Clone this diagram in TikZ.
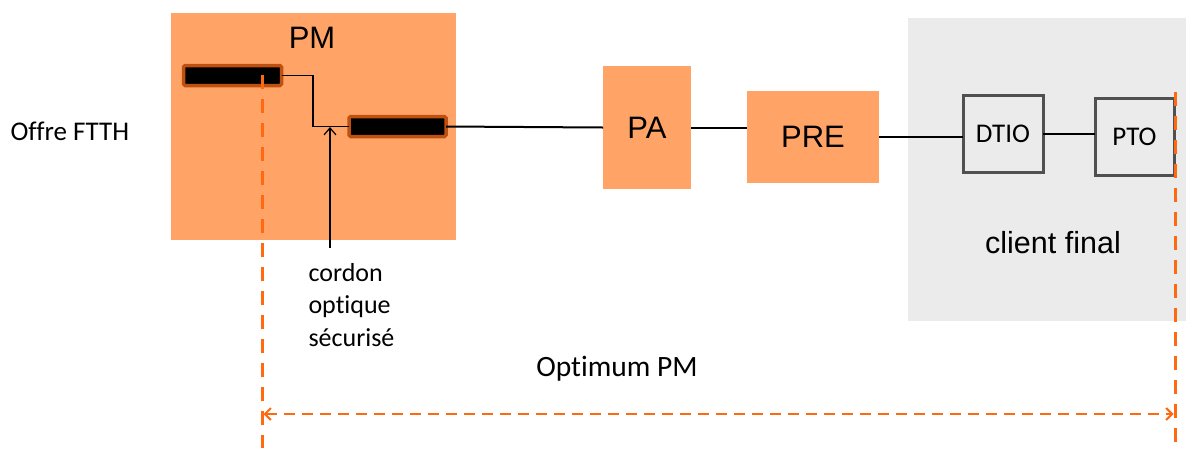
\documentclass[tikz,border=0pt]{standalone}
\usepackage{fontspec}
\setmainfont{Carlito}[Ligatures=NoCommon]
\newfontfamily\arialf{Liberation Sans}
\usetikzlibrary{arrows.meta}
\definecolor{pmfill}{HTML}{FFA466}
\definecolor{connborder}{HTML}{C0500F}
\definecolor{orangeline}{HTML}{FF6A10}
\definecolor{bggray}{HTML}{EBEBEB}
\definecolor{boxgray}{HTML}{505050}
\tikzset{
  orangebox/.style={fill=pmfill, draw=none, inner sep=0pt, outer sep=0pt},
  connbox/.style={fill=black, draw=connborder, line width=3.5pt, rounded corners=1.5pt, inner sep=0pt, outer sep=0pt},
  clientbox/.style={draw=boxgray, line width=3pt, inner sep=0pt, outer sep=0pt, font=\fontsize{27}{31}\selectfont},
  bigtext/.style={font=\arialf\fontsize{31}{35}\selectfont},
  link/.style={line width=2pt, black},
  thinlink/.style={line width=1.2pt, black},
  limit/.style={orangeline, line width=3pt, dash pattern=on 14pt off 10pt},
  span/.style={orangeline, line width=2pt, dash pattern=on 11pt off 7pt, {Straight Barb[length=6pt,width=12pt]}-{Straight Barb[length=6pt,width=12pt]}}
}
\begin{document}
\begin{tikzpicture}[x=1pt,y=-1pt]
\useasboundingbox (0,0) rectangle (1186,448);
% gray client area
\node[fill=bggray, inner sep=0pt, outer sep=0pt, minimum width=278pt, minimum height=303pt] (client) at (1047,169.5) {};
\node[font=\arialf\fontsize{30.5}{34}\selectfont] (clientlbl) at (1053,243) {client final};
% PM
\node[orangebox, minimum width=285pt, minimum height=227pt] (pm) at (313.5,126.5) {};
\node[bigtext] (pmlbl) at (312,38) {PM};
\node[connbox, minimum width=98pt, minimum height=20pt] (c1) at (232.5,75.5) {};
\node[connbox, minimum width=97pt, minimum height=20pt] (c2) at (397.5,126.5) {};
% PA, PRE
\node[orangebox, bigtext, minimum width=88pt, minimum height=123pt] (pa) at (647,127.5) {PA};
\node[orangebox, bigtext, minimum width=132pt, minimum height=92pt] (pre) at (813,137) {PRE};
% DTIO, PTO
\node[clientbox, minimum width=80pt, minimum height=77pt] (dtio) at (1003,133.5) {DTIO};
\node[clientbox, minimum width=79pt, minimum height=77pt] (pto) at (1134.5,136.5) {PTO};
% links
\coordinate (bend) at (313,75.5);
\draw[thinlink] (c1.east) -- (bend) |- (c2.west);
\draw[link] (c2.east) -- (pa.west);
\draw[link] (pa.east) -- (pa.east -| pre.west);
\draw[link] (pre.east) -- (pre.east -| dtio.west);
\draw[link] (dtio.east) -- (dtio.east -| pto.west);
% cordon arrow
\coordinate (cordtail) at (330,248);
\coordinate (cordhead) at (330,127);
\draw[thinlink, -{Straight Barb[length=7pt,width=12pt]}] (cordtail) -- (cordhead);
\node[anchor=west, align=left, font=\fontsize{26}{32.5}\selectfont] (cordlbl) at (305,305) {cordon\\optique\\sécurisé};
% labels
\node[anchor=west, font=\fontsize{27}{31}\selectfont] (offre) at (7,131) {Offre FTTH};
\node[font=\fontsize{29.5}{33}\selectfont] (optimum) at (617,369) {Optimum PM};
% dashed limits
\coordinate (ltop) at (262,75);
\coordinate (lbot) at (262,448);
\coordinate (rtop) at (1175,92);
\coordinate (rbot) at (1175,448);
\draw[limit] (ltop) -- (lbot);
\draw[limit] (rtop) -- (rbot);
\coordinate (sl) at (263.5,414);
\coordinate (sr) at (1173.5,414);
\draw[span] (sl) -- (sr);
\end{tikzpicture}
\end{document}
